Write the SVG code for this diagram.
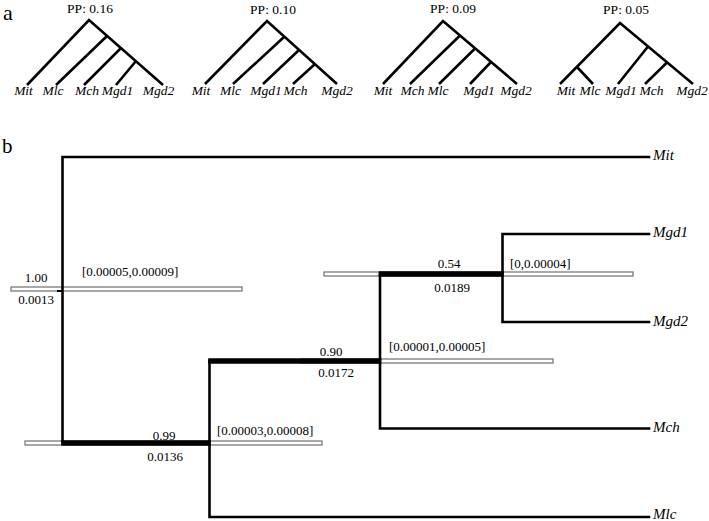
<svg xmlns="http://www.w3.org/2000/svg" width="709" height="521" viewBox="0 0 709 521" font-family="'Liberation Serif','DejaVu Serif',serif">
<style>
text{font-family:"Liberation Serif","DejaVu Serif",serif;fill:#000}
.panel{font-size:21px}
.leafA{font-size:13.5px;font-style:italic;text-anchor:middle}
.pp{font-size:13.5px;text-anchor:middle}
.leafB{font-size:15px;font-style:italic}
.num{font-size:13px;text-anchor:middle}
.ci{font-size:13px}
.ta{fill:none;stroke:#000;stroke-width:2.6;stroke-linecap:butt}
.thin{fill:none;stroke:#000;stroke-width:2.6;stroke-linecap:square}
.thick{fill:none;stroke:#000;stroke-width:5.5;stroke-linecap:butt}
.bar{fill:#fff;stroke:#7a7a7a;stroke-width:1.3}
</style>
<rect width="709" height="521" fill="#fff"/>

<!-- Panel a -->
<text class="panel" x="3" y="20" style="font-size:22px">a</text>

<g id="tree1">
  <text class="pp" x="90" y="13">PP: 0.16</text>
  <path class="ta" d="M27,85 L89,20 L163,85 M107,36 L56,85 M121,48 L84,85 M136,61 L116,85"/>
  <text class="leafA" x="23.5" y="95">Mit</text>
  <text class="leafA" x="53" y="95">Mlc</text>
  <text class="leafA" x="87" y="95">Mch</text>
  <text class="leafA" x="117.5" y="95">Mgd1</text>
  <text class="leafA" x="158.5" y="95">Mgd2</text>
</g>

<g id="tree2">
  <text class="pp" x="273" y="14">PP: 0.10</text>
  <path class="ta" d="M205,84 L267,21 L337,84 M284,37 L233,84 M299,50 L263,84 M315,64 L293,84"/>
  <text class="leafA" x="201" y="95">Mit</text>
  <text class="leafA" x="230.5" y="95">Mlc</text>
  <text class="leafA" x="266" y="95">Mgd1</text>
  <text class="leafA" x="295.5" y="95">Mch</text>
  <text class="leafA" x="337" y="95">Mgd2</text>
</g>

<g id="tree3">
  <text class="pp" x="453" y="13">PP: 0.09</text>
  <path class="ta" d="M383,84 L443,21 L517,84 M460,35.5 L410,84 M475,48.5 L439,84 M491,62 L470,84"/>
  <text class="leafA" x="383" y="95">Mit</text>
  <text class="leafA" x="412.5" y="95">Mch</text>
  <text class="leafA" x="438" y="95">Mlc</text>
  <text class="leafA" x="479" y="95">Mgd1</text>
  <text class="leafA" x="516" y="95">Mgd2</text>
</g>

<g id="tree4">
  <text class="pp" x="626" y="14">PP: 0.05</text>
  <path class="ta" d="M560,84 L620,23 L693,84 M577,67 L593,84 M648,46.5 L618,84 M667,62.5 L645,84"/>
  <text class="leafA" x="566" y="95">Mit</text>
  <text class="leafA" x="590" y="95">Mlc</text>
  <text class="leafA" x="621" y="95">Mgd1</text>
  <text class="leafA" x="651.5" y="95">Mch</text>
  <text class="leafA" x="692" y="95">Mgd2</text>
</g>

<!-- Panel b -->
<text class="panel" x="2" y="153">b</text>

<g id="hpd-bars">
  <rect class="bar" x="11" y="287" width="231" height="4"/>
  <rect class="bar" x="25" y="441" width="297" height="4"/>
  <rect class="bar" x="300" y="359" width="253" height="4"/>
  <rect class="bar" x="324" y="272" width="309" height="4"/>
</g>

<g id="connectors">
  <path class="thin" d="M62.5,157 L62.5,443 M62.5,157 L649,157"/>
  <path d="M57,291 L62.5,291" stroke="#000" stroke-width="2"/>
  <path class="thin" d="M209.5,361 L209.5,517 L649,517"/>
  <path class="thin" d="M380,274 L380,428.5 L649,428.5"/>
  <path class="thin" d="M502.5,274 L502.5,234 L649,234 M502.5,274 L502.5,322 L649,322"/>
  <path class="thick" d="M61.2,443 L210.8,443"/>
  <path class="thick" d="M208.2,361 L381.3,361"/>
  <path class="thick" d="M378.7,274 L503.8,274"/>
</g>

<g id="node-root">
  <text class="num" x="36" y="282">1.00</text>
  <text class="num" x="36" y="304">0.0013</text>
  <text class="ci" x="82" y="276">[0.00005,0.00009]</text>
</g>
<g id="node-099">
  <text class="num" x="164" y="440">0.99</text>
  <text class="num" x="165" y="461">0.0136</text>
  <text class="ci" x="217" y="435">[0.00003,0.00008]</text>
</g>
<g id="node-090">
  <text class="num" x="331" y="356">0.90</text>
  <text class="num" x="336" y="377">0.0172</text>
  <text class="ci" x="389" y="351">[0.00001,0.00005]</text>
</g>
<g id="node-054">
  <text class="num" x="449" y="268">0.54</text>
  <text class="num" x="452" y="292">0.0189</text>
  <text class="ci" x="510" y="268">[0,0.00004]</text>
</g>

<g id="leaf-Mit"><text class="leafB" x="653" y="160">Mit</text></g>
<g id="leaf-Mgd1"><text class="leafB" x="653" y="237">Mgd1</text></g>
<g id="leaf-Mgd2"><text class="leafB" x="653" y="326">Mgd2</text></g>
<g id="leaf-Mch"><text class="leafB" x="653" y="432">Mch</text></g>
<g id="leaf-Mlc"><text class="leafB" x="653" y="519">Mlc</text></g>
</svg>
